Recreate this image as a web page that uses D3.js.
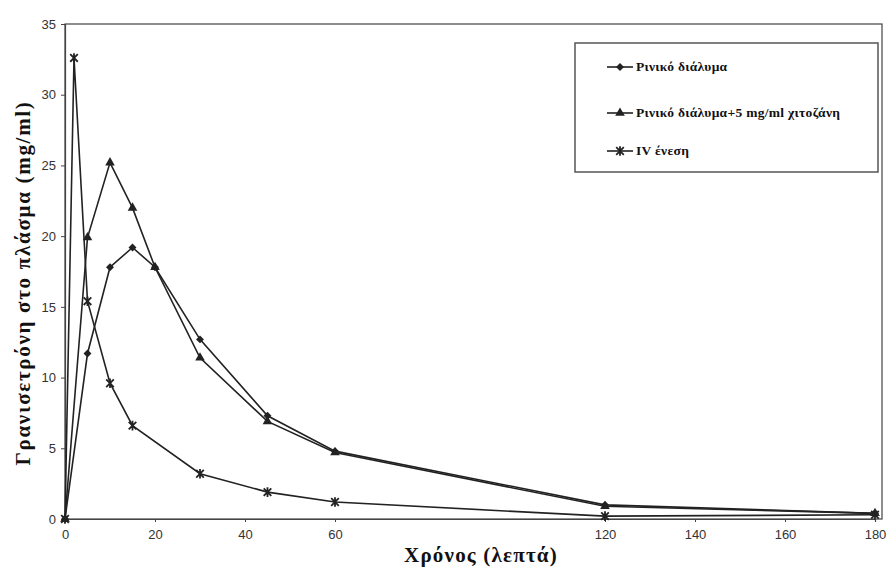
<!DOCTYPE html>
<html><head><meta charset="utf-8">
<script src="https://cdn.jsdelivr.net/npm/d3@7"></script>
<style>body{margin:0;background:#fff}svg{display:block}</style>
</head><body>
<svg id="c" width="892" height="567"></svg>
<script>
const seriesNames = ["Ρινικό διάλυμα", "Ρινικό διάλυμα+5 mg/ml χιτοζάνη", "IV ένεση"];
const nasalTime = [0, 5, 10, 15, 20, 30, 45, 60, 120, 180];
const nasalValues = [0, 11.7, 17.8, 19.2, 17.8, 12.7, 7.3, 4.8, 1.0, 0.4];
const chitosanTime = [0, 5, 10, 15, 20, 30, 45, 60, 120, 180];
const chitosanValues = [0, 19.9, 25.2, 22.0, 17.8, 11.4, 6.9, 4.7, 0.9, 0.4];
const ivTime = [0, 2, 5, 10, 15, 30, 45, 60, 120, 180];
const ivValues = [0, 32.6, 15.4, 9.6, 6.6, 3.2, 1.9, 1.2, 0.2, 0.3];
const xTicks = [0, 20, 40, 60, 120, 140, 160, 180];
const yTicks = [0, 5, 10, 15, 20, 25, 30, 35];
const xTitle = "Χρόνος (λεπτά)";
const yTitle = "Γρανισετρόνη στο πλάσμα (mg/ml)";

const svg = d3.select("#c");
const L = 65, T = 24, R = 882, B = 519;
const x = d3.scaleLinear().domain([0, 180]).range([L, 875]);
const y = d3.scaleLinear().domain([0, 35]).range([B, T]);
const ink = "#222";
const serif = "Liberation Serif, Times New Roman, serif";

// frame
svg.append("rect").attr("x", L).attr("y", T).attr("width", R - L).attr("height", B - T)
  .attr("fill", "none").attr("stroke", "#444").attr("stroke-width", 1.2);

const xa = svg.append("g").attr("transform", `translate(0,${B})`)
  .call(d3.axisBottom(x).tickValues(xTicks).tickSize(3).tickPadding(8).tickFormat(d3.format("d")));
const ya = svg.append("g").attr("transform", `translate(${L},0)`)
  .call(d3.axisLeft(y).tickValues(yTicks).tickSize(4).tickPadding(5).tickFormat(d3.format("d")));
[xa, ya].forEach(a => {
  a.select(".domain").attr("stroke", "#444").attr("stroke-width", 1.2);
  a.selectAll(".tick line").attr("stroke", "#444");
  a.selectAll(".tick text").attr("font-family", "Liberation Sans, Arial, sans-serif")
    .attr("font-size", 13).attr("fill", "#333");
});

svg.append("text").attr("x", 481).attr("y", 562).attr("text-anchor", "middle")
  .attr("font-family", serif).attr("font-weight", "bold")
  .attr("font-size", 21).attr("letter-spacing", 1.2).attr("fill", "#111").text(xTitle);
svg.append("text").attr("transform", "translate(30,283) rotate(-90)").attr("text-anchor", "middle")
  .attr("font-family", serif).attr("font-weight", "bold")
  .attr("font-size", 21).attr("letter-spacing", 1.7).attr("fill", "#111").text(yTitle);

const series = [
  {t: nasalTime, v: nasalValues, m: "diamond"},
  {t: chitosanTime, v: chitosanValues, m: "triangle"},
  {t: ivTime, v: ivValues, m: "star"}
];
const line = d3.line().x(d => x(d[0])).y(d => y(d[1]));

function marker(g, type, cx, cy) {
  if (type === "diamond") {
    g.append("path").attr("d", d3.symbol(d3.symbolDiamond2, 40)()).attr("transform", `translate(${cx},${cy})`).attr("fill", ink);
  } else if (type === "triangle") {
    g.append("path").attr("d", d3.symbol(d3.symbolTriangle, 40)()).attr("transform", `translate(${cx},${cy})`).attr("fill", ink);
  } else {
    const s = 3.8;
    g.append("path").attr("d", `M${cx-s},${cy-s}L${cx+s},${cy+s}M${cx-s},${cy+s}L${cx+s},${cy-s}M${cx},${cy-s-1}L${cx},${cy+s+1}`)
      .attr("stroke", ink).attr("stroke-width", 1.8).attr("fill", "none");
  }
}

series.forEach(s => {
  const pts = s.t.map((t, i) => [t, s.v[i]]);
  svg.append("path").datum(pts).attr("d", line).attr("fill", "none").attr("stroke", ink).attr("stroke-width", 1.6);
  const g = svg.append("g");
  pts.forEach(p => marker(g, s.m, x(p[0]), y(p[1])));
});

// legend
svg.append("rect").attr("x", 575).attr("y", 43).attr("width", 303).attr("height", 129)
  .attr("fill", "#fff").attr("stroke", "#555").attr("stroke-width", 1.5);
const ly = [64, 110, 148];
series.forEach((s, i) => {
  const g = svg.append("g");
  g.append("line").attr("x1", 607).attr("x2", 633).attr("y1", ly[i] + 3).attr("y2", ly[i] + 3).attr("stroke", ink).attr("stroke-width", 1.6);
  marker(g, s.m, 620, ly[i] + 3);
  g.append("text").attr("x", 636).attr("y", ly[i] + 7).attr("font-family", serif)
    .attr("font-weight", "bold").attr("font-size", 13.5).attr("letter-spacing", 0.3).attr("fill", "#111").text(seriesNames[i]);
});
</script>
</body></html>
